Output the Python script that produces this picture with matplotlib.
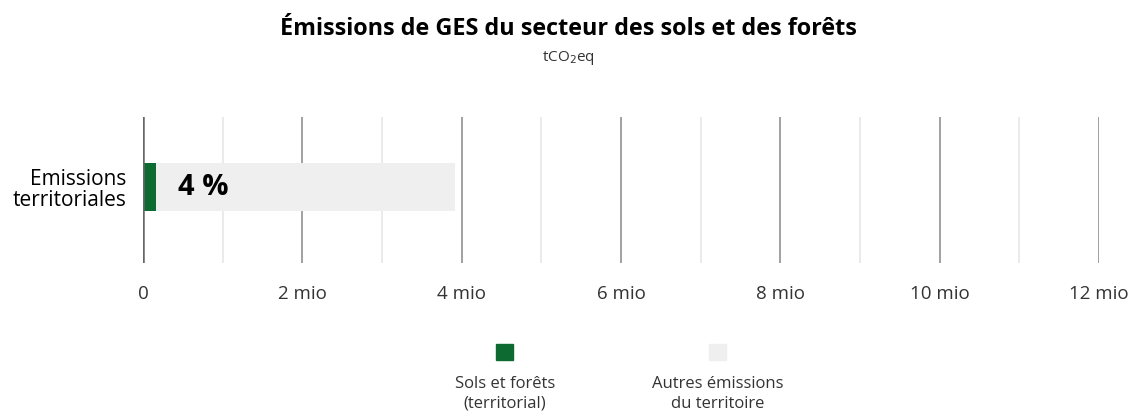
import matplotlib.pyplot as plt
from matplotlib.patches import Rectangle

plt.rcParams['font.family'] = ['Open Sans', 'DejaVu Sans']

# Data (mio tCO2eq)
categories = ["Emissions\nterritoriales"]
sols_forets = [0.16]
autres = [3.76]
share_label = "4 %"
xticks = [0, 2, 4, 6, 8, 10, 12]
xtick_labels = ["0", "2 mio", "4 mio", "6 mio", "8 mio", "10 mio", "12 mio"]
legend_labels = ["Sols et forêts\n(territorial)", "Autres émissions\ndu territoire"]
colors = ["#0d6b32", "#efefef"]

fig = plt.figure(figsize=(11.36, 4.18), dpi=100)
ax = fig.add_axes([0.1259, 0.371, 0.8415, 0.349])

ax.barh(categories, sols_forets, height=0.33, color=colors[0], zorder=3)
ax.barh(categories, autres, left=sols_forets, height=0.33, color=colors[1], zorder=2)
ax.text(0.44, 0, share_label, fontsize=21, fontweight='bold', va='center', ha='left', zorder=4)

ax.set_xlim(0, 12)
ax.set_ylim(-0.52, 0.48)
for x in range(1, 13, 2):
    ax.axvline(x, color="#e4e4e4", lw=1.1, zorder=1)
for x in xticks[1:]:
    ax.axvline(x, color="#9a9a9a", lw=1.3, zorder=1)
ax.axvline(0, color="#666666", lw=1.8, zorder=4)

ax.set_xticks(xticks)
ax.set_xticklabels(xtick_labels, fontsize=13.5, color="#333333")
ax.tick_params(axis='x', length=0, pad=16)
ax.tick_params(axis='y', length=0, pad=12, labelsize=15)
for s in ax.spines.values():
    s.set_visible(False)
for t in ax.get_yticklabels():
    t.set_linespacing(1.0)

fig.text(0.5, 0.93, "Émissions de GES du secteur des sols et des forêts",
         ha='center', va='center', fontsize=16.8, fontweight='bold')
fig.text(0.5, 0.862, "tCO$_2$eq", ha='center', va='center', fontsize=11, color="#333333")

# legend
leg_x = [0.4445, 0.632]
for lx, lab, c in zip(leg_x, legend_labels, colors):
    fig.add_artist(Rectangle((lx - 0.0075, 0.138), 0.015, 0.04, transform=fig.transFigure,
                             color=c))
    fig.text(lx, 0.058, lab, ha='center', va='center', fontsize=12, color="#333333",
             linespacing=1.3)

fig.savefig("out.png", dpi=100)
